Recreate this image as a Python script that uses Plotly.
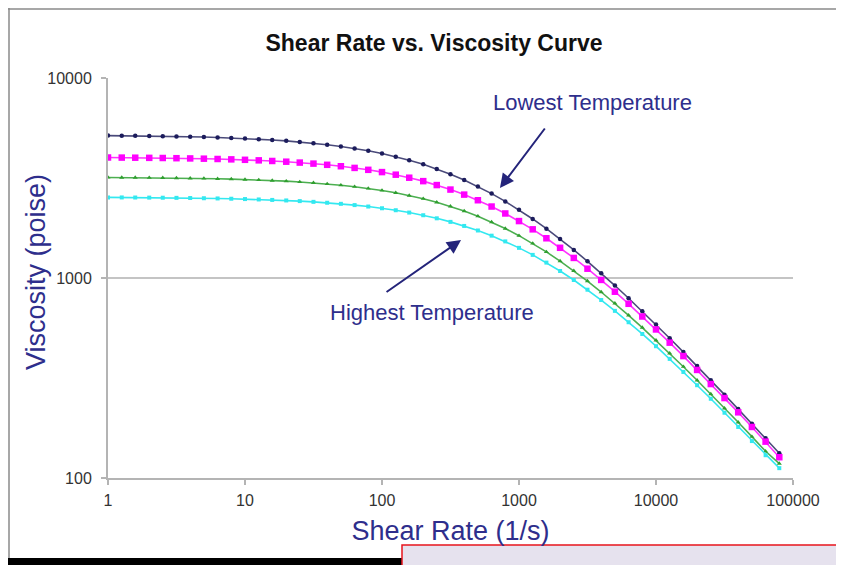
import plotly.graph_objects as go

# ---- data ----
shear_rate = [1, 1.26, 1.58, 2.0, 2.51, 3.16, 3.98, 5.01, 6.31, 7.94,
              10, 12.6, 15.8, 20.0, 25.1, 31.6, 39.8, 50.1, 63.1, 79.4,
              100, 126, 158, 200, 251, 316, 398, 501, 631, 794,
              1000, 1259, 1585, 1995, 2512, 3162, 3981, 5012, 6310, 7943,
              10000, 12589, 15849, 19953, 25119, 31623, 39811, 50119, 63096, 79433]

visc_lowest = [5153, 5146, 5138, 5128, 5116, 5102, 5086, 5066, 5043, 5016,
               4984, 4946, 4902, 4851, 4791, 4722, 4641, 4549, 4445, 4326,
               4193, 4044, 3880, 3701, 3509, 3304, 3090, 2868, 2642, 2415,
               2191, 1973, 1764, 1566, 1382, 1212, 1057, 917, 792, 682,
               585, 500, 426, 363, 308, 261, 221, 187, 158, 133]

visc_low = [4004, 4000, 3995, 3988, 3981, 3972, 3962, 3950, 3936, 3919,
            3899, 3875, 3847, 3815, 3776, 3732, 3681, 3621, 3552, 3474,
            3385, 3285, 3173, 3050, 2915, 2768, 2612, 2448, 2277, 2102,
            1926, 1751, 1580, 1416, 1260, 1113, 978, 854, 743, 642,
            553, 475, 407, 347, 295, 251, 213, 180, 152, 127]

visc_high = [3183, 3180, 3176, 3172, 3167, 3161, 3153, 3145, 3135, 3123,
             3108, 3092, 3072, 3049, 3022, 2990, 2953, 2910, 2861, 2804,
             2739, 2666, 2584, 2492, 2391, 2281, 2162, 2036, 1904, 1767,
             1628, 1488, 1350, 1215, 1087, 965, 851, 747, 651, 565,
             488, 420, 360, 308, 263, 223, 190, 161, 136, 118]

visc_highest = [2530, 2528, 2526, 2523, 2520, 2516, 2511, 2505, 2499, 2491,
                2481, 2470, 2457, 2442, 2424, 2403, 2378, 2349, 2315, 2277,
                2232, 2182, 2124, 2060, 1988, 1908, 1821, 1728, 1628, 1524,
                1415, 1305, 1194, 1084, 977, 874, 776, 685, 601, 525,
                456, 394, 339, 291, 249, 212, 180, 153, 130, 112]

x_ticks = [1, 10, 100, 1000, 10000, 100000]
x_tick_labels = ["1", "10", "100", "1000", "10000", "100000"]
y_ticks = [100, 1000, 10000]
y_tick_labels = ["100", "1000", "10000"]

NAVY_TXT = "#2e2e8c"

series = [
    (visc_lowest, "#1c1c5c", "#4a4a7a", "circle", 4.5),
    (visc_low, "#ff00ff", "#ff33ff", "square", 6.5),
    (visc_high, "#2f9e2f", "#4caf50", "triangle-up", 4.5),
    (visc_highest, "#33e8f0", "#33e8f0", "square", 4),
]

fig = go.Figure()
for vals, mcol, lcol, sym, size in series:
    fig.add_trace(go.Scatter(
        x=shear_rate, y=vals, mode="lines+markers",
        line=dict(color=lcol, width=1.6),
        marker=dict(color=mcol, symbol=sym, size=size, line=dict(width=0)),
        showlegend=False, hoverinfo="skip"))

# the page has an 8px body margin: the figure sits at (8, 8), so it is made
# 8px smaller and only the left/top margins shrink by 8px
OFF = 8
fig.update_layout(
    width=844 - OFF, height=565 - OFF,
    margin=dict(l=108 - OFF, r=51, t=78 - OFF, b=87),
    paper_bgcolor="white", plot_bgcolor="white",
    font=dict(family="Liberation Sans, Arial, sans-serif", color="#333333"),
    title=dict(text="<b>Shear Rate vs. Viscosity Curve</b>",
               x=(434 - OFF) / (844 - OFF), xanchor="center",
               y=1 - (43 - OFF) / (565 - OFF), yanchor="middle",
               font=dict(size=23, color="#111111")),
    xaxis=dict(type="log", range=[0, 5], tickvals=x_ticks, ticktext=x_tick_labels,
               showgrid=False, showline=True, linecolor="#b4b4b4", linewidth=2,
               ticks="outside", ticklen=5, tickcolor="#b4b4b4", tickwidth=1.5,
               ticklabelstandoff=2,
               tickfont=dict(size=16, color="#333333"), zeroline=False,
               title=dict(text="Shear Rate (1/s)", standoff=13,
                          font=dict(size=27, color=NAVY_TXT))),
    yaxis=dict(type="log", range=[2, 4], tickvals=y_ticks, ticktext=y_tick_labels,
               showgrid=True, gridcolor="#c4c4c4", gridwidth=2,
               showline=True, linecolor="#b4b4b4", linewidth=2,
               ticks="outside", ticklen=5, tickcolor="#b4b4b4", tickwidth=1.5,
               ticklabelstandoff=6,
               tickfont=dict(size=16, color="#333333"), zeroline=False),
)

# y-axis title placed as rotated text
fig.add_annotation(x=(36 - 108) / 685, y=(478 - 272) / 400, xref="paper", yref="paper",
                   xanchor="center", yanchor="middle", textangle=-90,
                   text="Viscosity (poise)", showarrow=False,
                   font=dict(size=27, color=NAVY_TXT))

# text labels
fig.add_annotation(x=(592 - 108) / 685, y=(478 - 102) / 400, xref="paper", yref="paper",
                   xanchor="center", yanchor="middle",
                   text="Lowest Temperature", showarrow=False,
                   font=dict(size=22, color=NAVY_TXT))
fig.add_annotation(x=(432 - 108) / 685, y=(478 - 312) / 400, xref="paper", yref="paper",
                   xanchor="center", yanchor="middle",
                   text="Highest Temperature", showarrow=False,
                   font=dict(size=22, color=NAVY_TXT))

# arrows
fig.add_annotation(x=2.861, y=3.45, xref="x", yref="y", text="", showarrow=True,
                   ax=46, ay=-61, axref="pixel", ayref="pixel",
                   arrowhead=2, arrowsize=1.4, arrowwidth=2, arrowcolor="#24247a")
fig.add_annotation(x=2.577, y=3.19, xref="x", yref="y", text="", showarrow=True,
                   ax=-76, ay=53, axref="pixel", ayref="pixel",
                   arrowhead=2, arrowsize=1.4, arrowwidth=2, arrowcolor="#24247a")

# screenshot decorations (frame, black bar, red-bordered box)
def px(X):
    return (X - 108) / 685

def py(Y):
    return (478 - Y) / 400

fig.add_shape(type="line", xref="paper", yref="paper", x0=px(8), x1=px(846), y0=py(9), y1=py(9),
              line=dict(color="#8a8a8a", width=1.5))
fig.add_shape(type="line", xref="paper", yref="paper", x0=px(9), x1=px(9), y0=py(8), y1=py(558),
              line=dict(color="#8a8a8a", width=1.5))
fig.add_shape(type="rect", xref="paper", yref="paper", x0=px(8), x1=px(846), y0=py(558), y1=py(568),
              line=dict(width=0), fillcolor="#000000")
fig.add_shape(type="rect", xref="paper", yref="paper", x0=px(402), x1=px(848), y0=py(545), y1=py(570),
              line=dict(color="#e8141c", width=1.5), fillcolor="#e6e2ee")

fig.write_html("out.html")
